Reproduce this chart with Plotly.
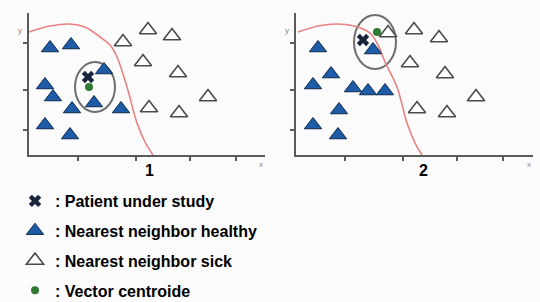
import plotly.graph_objects as go

# ---- data (panel 1) ----
p1_healthy_x = [21, 42, 16, 24, 43, 65, 75, 92, 16, 41]
p1_healthy_y = [107, 110, 70, 58, 46, 52, 85, 46, 30, 20]
p1_sick_x = [94, 119, 143, 114, 149, 179, 120, 150]
p1_sick_y = [113, 125, 119, 93, 82, 58, 47, 42]
p1_patient = ([59], [78])
p1_centroid = ([60], [68])
p1_ellipse = (66, 68, 20, 25)  # cx, cy, rx, ry

# ---- data (panel 2) ----
p2_healthy_x = [22, 35, 17, 57, 72, 89, 43, 17, 42, 77]
p2_healthy_y = [107, 81, 70, 67, 64, 64, 45, 30, 20, 105]
p2_sick_x = [92, 118, 143, 114, 149, 180, 121, 151]
p2_sick_y = [122, 125, 117, 92, 81, 58, 46, 42]
p2_patient = ([67], [115])
p2_centroid = ([81], [123])
p2_ellipse = (79, 113, 21, 27)

# decision boundary
curve1_x = [0, 21, 41, 56, 71, 81, 88, 98, 108, 116, 124]
curve1_y = [123, 129, 131, 128, 118, 110, 98, 68, 32, 13, 0]
curve2_x = [2, 22, 41, 58, 74, 82, 89, 101, 111, 119, 126]
curve2_y = [123, 129, 131, 129, 122, 110, 93, 68, 32, 12, 0]

x_ticks = [49, 107, 161, 207]
y_ticks = [112, 65, 25]

labels = ["Patient under study", "Nearest neighbor healthy",
          "Nearest neighbor sick", "Vector centroide"]

BLUE = "#1f5ca8"
RED = "#e98080"
AX = "#5a5a5a"

fig = go.Figure()

def panel(xa, ya, hx, hy, sx, sy, pat, cen, cx, cy, show):
    fig.add_trace(go.Scatter(x=cx, y=cy, mode="lines", line=dict(color=RED, width=1.6, shape="spline"),
                             xaxis=xa, yaxis=ya, showlegend=False, hoverinfo="skip"))
    fig.add_trace(go.Scatter(x=pat[0], y=pat[1], mode="markers", name=": " + labels[0],
                             marker=dict(symbol="x", size=11, color="#17263d", line=dict(width=0)),
                             xaxis=xa, yaxis=ya, showlegend=show, legendgroup="a"))
    fig.add_trace(go.Scatter(x=hx, y=hy, mode="markers", name=": " + labels[1],
                             marker=dict(symbol="triangle-up", size=15, color=BLUE,
                                         line=dict(color="#0e2a4e", width=1)),
                             xaxis=xa, yaxis=ya, showlegend=show, legendgroup="b"))
    fig.add_trace(go.Scatter(x=sx, y=sy, mode="markers", name=": " + labels[2],
                             marker=dict(symbol="triangle-up", size=15, color="white",
                                         line=dict(color="#4a4a4a", width=1.6)),
                             xaxis=xa, yaxis=ya, showlegend=show, legendgroup="c"))
    fig.add_trace(go.Scatter(x=cen[0], y=cen[1], mode="markers", name=": " + labels[3],
                             marker=dict(symbol="circle", size=8, color="#2f7a32"),
                             xaxis=xa, yaxis=ya, showlegend=show, legendgroup="d"))

panel("x", "y", p1_healthy_x, p1_healthy_y, p1_sick_x, p1_sick_y, p1_patient, p1_centroid,
      curve1_x, curve1_y, True)
panel("x2", "y2", p2_healthy_x, p2_healthy_y, p2_sick_x, p2_sick_y, p2_patient, p2_centroid,
      curve2_x, curve2_y, False)

for (cxe, cye, rx, ry), xr, yr in [(p1_ellipse, "x", "y"), (p2_ellipse, "x2", "y2")]:
    fig.add_shape(type="circle", xref=xr, yref=yr, x0=cxe - rx, x1=cxe + rx, y0=cye - ry, y1=cye + ry,
                  line=dict(color="#6e6e6e", width=2), layer="below")

ax_common = dict(showline=True, linecolor=AX, linewidth=2, showgrid=False, zeroline=False,
                 ticks="outside", ticklen=4, tickcolor=AX, tickwidth=2, showticklabels=False,
                 fixedrange=True, automargin=False)

fig.update_layout(
    width=540, height=302,
    margin=dict(l=0, r=0, t=0, b=0, autoexpand=False),
    paper_bgcolor="#fbfbfb", plot_bgcolor="#fbfbfb",
    xaxis=dict(domain=[29 / 540, 265 / 540], range=[0, 236], tickvals=x_ticks, anchor="y", **ax_common),
    yaxis=dict(domain=[147 / 302, 289 / 302], range=[0, 142], tickvals=y_ticks, anchor="x", **ax_common),
    xaxis2=dict(domain=[296 / 540, 533 / 540], range=[0, 237], tickvals=x_ticks, anchor="y2", **ax_common),
    yaxis2=dict(domain=[147 / 302, 289 / 302], range=[0, 142], tickvals=y_ticks, anchor="x2", **ax_common),
    legend=dict(x=15 / 540, y=1 - 184 / 302, xanchor="left", yanchor="top",
                bgcolor="rgba(0,0,0,0)", tracegroupgap=6,
                font=dict(family="Liberation Sans, Arial, sans-serif", size=16, color="black", weight="bold")),
    showlegend=True,
    font=dict(family="Liberation Sans, Arial, sans-serif"),
)

for txt, xp in [("1", 143), ("2", 430)]:
    fig.add_annotation(text=txt, x=xp / 540, y=(302 - 170) / 302, xref="paper", yref="paper",
                       showarrow=False, font=dict(size=16, color="black", weight="bold"))
for xr, yr in [("x domain", "y domain"), ("x2 domain", "y2 domain")]:
    fig.add_annotation(text="x", x=1.0, y=-0.02, xref=xr, yref=yr, xanchor="right", yanchor="top",
                       showarrow=False, font=dict(size=8, color="#888"))
    fig.add_annotation(text="y", x=-0.02, y=0.92, xref=xr, yref=yr, xanchor="right",
                       showarrow=False, font=dict(size=8, color="#888"))

fig.write_html("out.html", config={"displayModeBar": False},
               post_script="document.body.style.margin='0';document.body.style.overflow='hidden';")
